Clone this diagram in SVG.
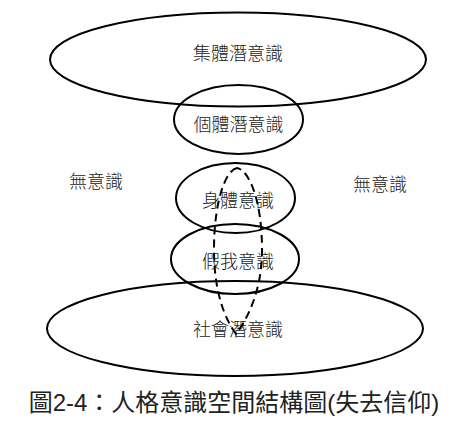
<svg xmlns="http://www.w3.org/2000/svg" width="469" height="432" viewBox="0 0 469 432">
<style>
.e{fill:none;stroke:#000;stroke-width:2}
.t{font-family:"Noto Sans CJK TC","Noto Sans CJK SC",sans-serif;font-size:18px;fill:#222;text-anchor:middle;dominant-baseline:central;font-weight:300}
.cap{font-family:"Liberation Sans","Noto Sans CJK TC",sans-serif;font-size:24px;fill:#222;text-anchor:middle;dominant-baseline:central}
.d{fill:none;stroke:#000;stroke-width:2;stroke-dasharray:8 5}
</style>
<rect width="469" height="432" fill="#fff"/>
<g id="collective"><ellipse class="e" cx="238" cy="59.5" rx="188" ry="47"/><text class="t" x="238" y="52">集體潛意識</text></g>
<g id="personal"><ellipse class="e" cx="238.5" cy="119.5" rx="64.5" ry="34.5"/><text class="t" x="238.5" y="123">個體潛意識</text></g>
<g id="unconscious-left"><text class="t" x="96" y="180">無意識</text></g>
<g id="unconscious-right"><text class="t" x="380" y="183">無意識</text></g>
<g id="body"><ellipse class="e" cx="235.5" cy="198" rx="59.5" ry="35"/><text class="t" x="238" y="199">身體意識</text></g>
<g id="falseself"><ellipse class="e" cx="235" cy="259" rx="64" ry="35"/><text class="t" x="238" y="260">假我意識</text></g>
<g id="social"><ellipse class="e" cx="235" cy="328.5" rx="188" ry="47.5"/><text class="t" x="238" y="328">社會潛意識</text></g>
<g id="connectors"><path class="d" d="M237,168 C226,170 214,200 214,250 C214,290 224,318 236,334 C248,318 262,290 262,250 C262,200 249,170 237,168 Z"/></g>
<g id="caption"><text class="cap" x="234" y="402">圖2-4：人格意識空間結構圖(失去信仰)</text></g>
</svg>
